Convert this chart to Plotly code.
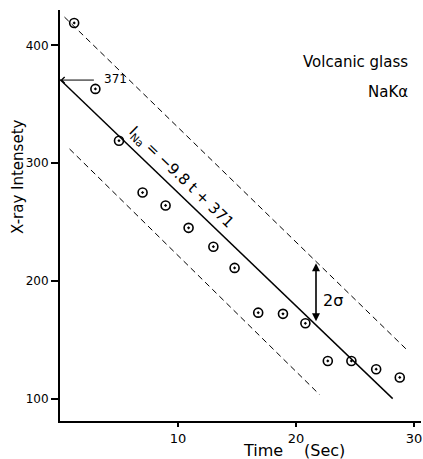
import plotly.graph_objects as go

# Data
time_s = [1.2, 3.0, 5.0, 7.0, 8.95, 10.9, 13.0, 14.8, 16.8, 18.9, 20.8, 22.7, 24.7, 26.8, 28.8]
intensity = [419, 363, 319, 275, 264, 245, 229, 211, 173, 172, 164, 132, 132, 125, 118]

fit_t = [0, 28.2]
fit_i = [371, 100]
upper_t = [0.38, 29.4]
upper_i = [424, 141.5]
lower_t = [0.81, 22.0]
lower_i = [312, 103.4]

x_ticks = [10, 20, 30]
y_ticks = [100, 200, 300, 400]

FONT = "DejaVu Sans"

# pixel helpers for paper-positioned texts (plot area 60..421 x, 10..421.4 y)
def px(xp):
    return (xp - 60) / 361

def py(yp):
    return (421.4 - yp) / 411.5

fig = go.Figure()
fig.add_trace(go.Scatter(x=fit_t, y=fit_i, mode="lines",
                         line=dict(color="black", width=1.4), showlegend=False))
for tt, ii in [(upper_t, upper_i), (lower_t, lower_i)]:
    fig.add_trace(go.Scatter(x=tt, y=ii, mode="lines",
                             line=dict(color="black", width=1, dash="6px,4px"),
                             showlegend=False))
fig.add_trace(go.Scatter(x=time_s, y=intensity, mode="markers",
                         marker=dict(symbol="circle-open-dot", size=9, color="black",
                                     line=dict(width=1.6, color="black")),
                         showlegend=False))

# 371 arrow
fig.add_annotation(x=0.05, y=370.5, ax=3.0, ay=370.5, xref="x", yref="y", axref="x", ayref="y",
                   showarrow=True, arrowhead=4, arrowsize=1.2, arrowwidth=1,
                   arrowcolor="black", text="")
fig.add_annotation(x=3.58, y=371, xref="x", yref="y", text="371", showarrow=False,
                   xanchor="left", yanchor="middle",
                   font=dict(family=FONT, size=12, color="black"))
# 2 sigma arrow
fig.add_annotation(x=21.7, y=215, ax=21.7, ay=164.5, xref="x", yref="y", axref="x", ayref="y",
                   showarrow=True, arrowhead=2, startarrowhead=2, arrowside="end+start",
                   arrowsize=1, arrowwidth=1.6, arrowcolor="black", text="")
fig.add_annotation(x=22.1, y=183, xref="x", yref="y", text="2σ", showarrow=False,
                   xanchor="left", yanchor="middle",
                   font=dict(family=FONT, size=16, color="black"))
# Equation along the fitted line
fig.add_annotation(x=10.3, y=288, xref="x", yref="y",
                   text="I<sub>Na</sub> = −9.8 t + 371", showarrow=False, textangle=44,
                   font=dict(family=FONT, size=15, color="black"))

fig.add_annotation(x=px(410), y=py(62), xref="paper", yref="paper",
                   text="Volcanic glass", showarrow=False, xanchor="right", yanchor="middle",
                   font=dict(family=FONT, size=15, color="black"))
fig.add_annotation(x=px(410), y=py(92), xref="paper", yref="paper",
                   text="NaKα", showarrow=False, xanchor="right", yanchor="middle",
                   font=dict(family=FONT, size=15, color="black"))
fig.add_annotation(x=px(18), y=py(177), xref="paper", yref="paper",
                   text="X-ray Intensety", showarrow=False, textangle=-90,
                   xanchor="center", yanchor="middle",
                   font=dict(family=FONT, size=15, color="black"))
fig.add_annotation(x=px(285), y=py(451), xref="paper", yref="paper",
                   text="Time", showarrow=False, xanchor="right", yanchor="middle",
                   font=dict(family=FONT, size=16, color="black"))
fig.add_annotation(x=px(302), y=py(451), xref="paper", yref="paper",
                   text="(Sec)", showarrow=False, xanchor="left", yanchor="middle",
                   font=dict(family=FONT, size=16, color="black"))

fig.update_layout(
    width=423, height=459,
    margin=dict(l=60, r=2, t=10, b=38),
    plot_bgcolor="white", paper_bgcolor="white",
    showlegend=False,
)
fig.update_xaxes(range=[0, 30.6], tickvals=x_ticks, showgrid=False, zeroline=False,
                 showline=True, linecolor="black", linewidth=2,
                 ticks="outside", ticklen=4, tickcolor="black", tickwidth=1.5,
                 ticklabelstandoff=0,
                 tickfont=dict(family=FONT, size=13, color="black"))
fig.update_yaxes(range=[81, 430], tickvals=y_ticks, showgrid=False, zeroline=False,
                 showline=True, linecolor="black", linewidth=2,
                 ticks="outside", ticklen=7, tickcolor="black", tickwidth=1.5,
                 tickfont=dict(family=FONT, size=12, color="black"))

fig.write_html("out.html")
